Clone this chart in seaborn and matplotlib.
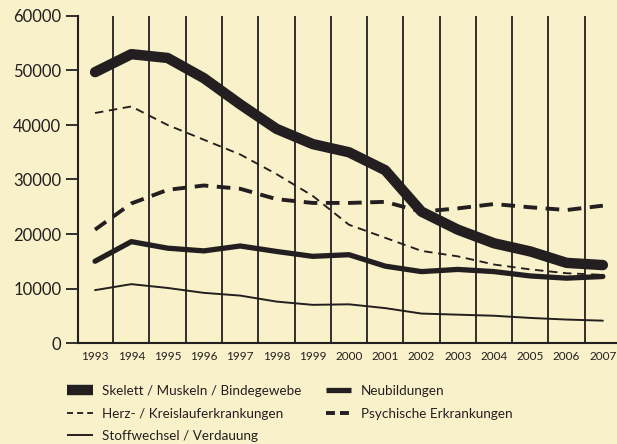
import numpy as np
import pandas as pd
import matplotlib
matplotlib.use("Agg")
import matplotlib.pyplot as plt
import seaborn as sns

years = list(range(1993, 2008))
skelett = [49700, 53000, 52300, 48600, 43800, 39300, 36500, 35000, 31700,
           24100, 20800, 18300, 16800, 14700, 14300]
herz = [42200, 43400, 40000, 37300, 34600, 31000, 27000, 21700, 19300,
        16900, 15900, 14400, 13500, 12800, 12500]
psych = [20800, 25600, 28100, 28900, 28300, 26400, 25700, 25700, 25900,
         24100, 24700, 25500, 24900, 24400, 25200]
neu = [15000, 18600, 17400, 16900, 17800, 16800, 15900, 16200, 14100,
       13100, 13500, 13100, 12300, 11900, 12200]
stoff = [9700, 10800, 10100, 9200, 8700, 7600, 7000, 7100, 6400,
         5400, 5200, 5000, 4600, 4300, 4100]

labels = ["Skelett / Muskeln / Bindegewebe", "Herz- / Kreislauferkrankungen",
          "Stoffwechsel / Verdauung", "Neubildungen", "Psychische Erkrankungen"]

BG = "#F9F1C9"
INK = "#231F20"

sns.set_theme(style="white")
plt.rcParams["font.family"] = ["Lato", "DejaVu Sans"]

fig = plt.figure(figsize=(6.17, 4.44), dpi=100, facecolor=BG)
ax = fig.add_axes([78 / 617, 1 - 343 / 444, 1 - 78 / 617, (343 - 16) / 444])
ax.set_facecolor(BG)

df = pd.DataFrame({"year": years, "skelett": skelett, "herz": herz,
                   "psych": psych, "neu": neu, "stoff": stoff})

# vertical separators between years
for x in np.arange(1993.5, 2007, 1.0):
    ax.axvline(x, color=INK, lw=1.3, zorder=1)

styles = {
    "skelett": dict(lw=7.5, ls="-", leg="-"),
    "herz": dict(lw=1.35, ls=(0, (4.5, 3)), leg=(0, (3.2, 2.2))),
    "stoff": dict(lw=1.4, ls="-", leg="-"),
    "neu": dict(lw=3.8, ls="-", leg="-"),
    "psych": dict(lw=2.8, ls=(0, (3.5, 2.2)), leg=(0, (2.3, 1.3))),
}
handles = []
for key, lab in zip(["skelett", "herz", "stoff", "neu", "psych"], labels):
    st = styles[key]
    sns.lineplot(data=df, x="year", y=key, ax=ax, color=INK, lw=st["lw"],
                 linestyle=st["ls"], zorder=3)
    ln = ax.lines[-1]
    ln.set_solid_capstyle("round")
    ln.set_solid_joinstyle("round")
    ln.set_dash_capstyle("butt")
    handles.append(plt.Line2D([], [], color=INK, lw=st["lw"], linestyle=st["leg"],
                              solid_capstyle="butt"))

ax.set_xlim(1992.53, 2007.39)
ax.set_ylim(0, 60000)
ax.set_yticks(range(0, 60001, 10000))
ax.set_xticks(years)
ax.set_xticklabels([str(y) for y in years], fontsize=8.5, color=INK)
ax.set_yticklabels([str(v) for v in range(0, 60001, 10000)], fontsize=12, color=INK)
ax.tick_params(axis="y", length=9, width=1.3, color=INK, direction="out", pad=3, left=True)
ax.tick_params(axis="x", length=0, pad=6)
ax.set_xlabel("")
ax.set_ylabel("")
for s in ["top", "right"]:
    ax.spines[s].set_visible(False)
for s in ["left", "bottom"]:
    ax.spines[s].set_color(INK)
    ax.spines[s].set_linewidth(1.5)

fig.legend(handles, labels, loc="upper left", bbox_to_anchor=(55 / 617, 1 - 373 / 444),
           ncol=2, frameon=False, fontsize=9.7, handlelength=1.9,
           columnspacing=1.8, labelspacing=0.78, handletextpad=0.7,
           labelcolor=INK)

fig.savefig("out.png", dpi=100, facecolor=BG)
